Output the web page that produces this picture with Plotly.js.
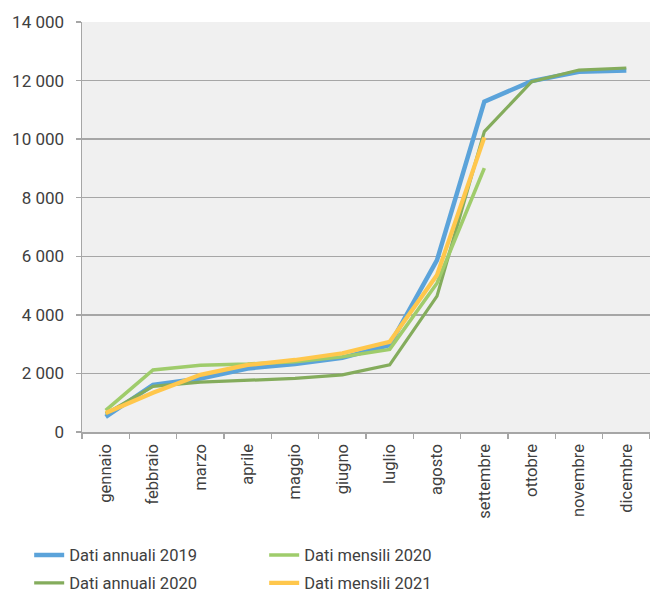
<!DOCTYPE html>
<html>
<head>
<meta charset="utf-8">
<script src="https://cdn.plot.ly/plotly-3.0.1.min.js"></script>
<style>
  html, body { margin: 0; padding: 0; background: #ffffff; }
  #chart { width: 650px; height: 594px; }
</style>
</head>
<body>
<div id="chart"></div>
<script>
const months = ["gennaio", "febbraio", "marzo", "aprile", "maggio", "giugno", "luglio", "agosto", "settembre", "ottobre", "novembre", "dicembre"];

const annuali2019 = [520, 1610, 1830, 2170, 2320, 2530, 2970, 5870, 11280, 11980, 12300, 12340];
const annuali2020 = [620, 1560, 1700, 1770, 1830, 1950, 2290, 4640, 10260, 11960, 12360, 12430];
const mensili2020 = [740, 2120, 2280, 2320, 2400, 2570, 2820, 5080, 9010];
const mensili2021 = [650, 1340, 1950, 2290, 2460, 2690, 3080, 5360, 10060];

const yTicks = [0, 2000, 4000, 6000, 8000, 10000, 12000, 14000];

const specs = [
  { name: "Dati annuali 2019", x: months, y: annuali2019, color: "#5BA3DA", width: 4.5, legend: "legend", rank: 1 },
  { name: "Dati annuali 2020", x: months, y: annuali2020, color: "#84AC5C", width: 3.2, legend: "legend2", rank: 1 },
  { name: "Dati mensili 2020", x: months.slice(0, mensili2020.length), y: mensili2020, color: "#9FCC6B", width: 3.6, legend: "legend", rank: 2 },
  { name: "Dati mensili 2021", x: months.slice(0, mensili2021.length), y: mensili2021, color: "#FFC74C", width: 4.2, legend: "legend2", rank: 2 }
];

const traces = specs.map(t => ({
  type: "scatter",
  mode: "lines",
  name: t.name,
  x: t.x,
  y: t.y,
  legend: t.legend,
  legendrank: t.rank,
  line: { color: t.color, width: t.width },
  hoverinfo: "skip"
}));

const legendBase = {
  orientation: "h",
  x: -0.093,
  xanchor: "left",
  yanchor: "top",
  entrywidth: 190,
  entrywidthmode: "pixels",
  font: { family: "Roboto, sans-serif", size: 16.5, color: "#404040" },
  bgcolor: "rgba(0,0,0,0)"
};

const layout = {
  width: 650,
  height: 594,
  margin: { l: 82, r: 0, t: 22, b: 162, autoexpand: false },
  paper_bgcolor: "#ffffff",
  plot_bgcolor: "#f0f0f0",
  separators: ", ",
  font: { family: "Roboto, sans-serif", size: 15, color: "#404040" },
  showlegend: true,
  legend: Object.assign({}, legendBase, { y: -0.258 }),
  legend2: Object.assign({}, legendBase, { y: -0.326 }),
  xaxis: {
    type: "category",
    categoryarray: months,
    range: [-0.5, 11.5],
    showgrid: false,
    showline: true,
    linecolor: "#a6a6a6",
    linewidth: 1.5,
    ticks: "outside",
    tickson: "boundaries",
    ticklen: 5,
    tickcolor: "#a6a6a6",
    tickwidth: 1.5,
    tickangle: -90,
    ticklabelstandoff: 4,
    automargin: false,
    tickfont: { family: "Roboto, sans-serif", size: 16.5, color: "#404040" },
    fixedrange: true
  },
  yaxis: {
    range: [0, 14000],
    tickvals: yTicks,
    tickformat: ",d",
    showgrid: true,
    gridcolor: "#a6a6a6",
    gridwidth: 1.5,
    zeroline: false,
    showline: true,
    linecolor: "#a6a6a6",
    linewidth: 1.5,
    ticks: "outside",
    ticklen: 5,
    tickcolor: "#a6a6a6",
    tickwidth: 1.5,
    ticklabelstandoff: 8,
    automargin: false,
    tickfont: { family: "Roboto, sans-serif", size: 17, color: "#404040" },
    fixedrange: true
  }
};

Plotly.newPlot("chart", traces, layout, { displayModeBar: false, staticPlot: true });
</script>
</body>
</html>
